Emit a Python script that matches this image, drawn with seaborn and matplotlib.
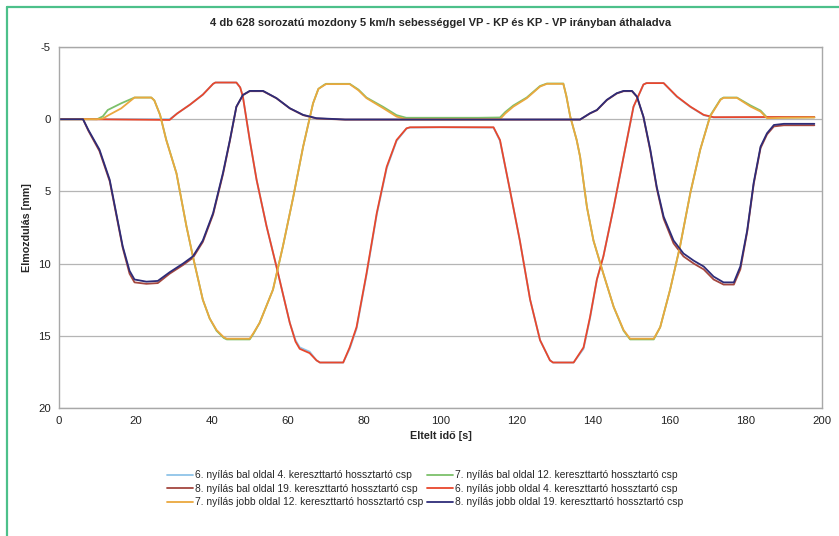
import numpy as np
import pandas as pd
import matplotlib
matplotlib.use("Agg")
import matplotlib.pyplot as plt
from matplotlib.lines import Line2D
from matplotlib import font_manager
import seaborn as sns

TITLE = "4 db 628 sorozatú mozdony 5 km/h sebességgel VP - KP és KP - VP irányban áthaladva"
X_LABEL = "Eltelt idő [s]"
Y_LABEL = "Elmozdulás [mm]"

NAMES = [
    "6. nyílás bal oldal 4. kereszttartó hossztartó csp",
    "7. nyílás bal oldal 12. kereszttartó hossztartó csp",
    "8. nyílás bal oldal 19. kereszttartó hossztartó csp",
    "6. nyílás jobb oldal 4. kereszttartó hossztartó csp",
    "7. nyílás jobb oldal 12. kereszttartó hossztartó csp",
    "8. nyílás jobb oldal 19. kereszttartó hossztartó csp",
]
COLORS = ["#8fc4e8", "#7cc06a", "#a4473f", "#e8472c", "#eaa83e", "#2e2c78"]

# 6. nyílás (light blue / red)
t_6 = [0, 7, 29, 31, 34.3, 37.7, 40.4, 41, 46.5, 47.5, 48.2, 50, 51.8, 54.4, 57, 58.7,
       60.5, 62, 63.1, 65.7, 67.5, 68.4, 74.5, 76.2, 78, 80.6, 83.3, 85.9, 88.5, 91.1,
       92, 100, 113.9, 115.6, 118.2, 120.8, 123.5, 126.1, 128.7, 129.5, 134.9, 137.5,
       139.2, 141, 142.7, 145.4, 148, 150.6, 153.2, 154, 158.5, 162, 165.5, 169, 171.6,
       185, 198]
v_6_bal = [0, 0, 0.0, -0.4, -1.0, -1.7, -2.45, -2.54, -2.54, -2.2, -1.57, 1.44, 4.2, 7.4, 10.2, 12.1,
           14.1, 15.3, 15.8, 16.1, 16.7, 16.85, 16.85, 15.9, 14.5, 10.8, 6.6, 3.4, 1.5, 0.65,
           0.58, 0.56, 0.58, 1.5, 4.9, 8.4, 12.5, 15.3, 16.7, 16.85, 16.85, 15.9,
           13.8, 11.1, 9.5, 6.1, 2.6, -0.85, -2.4, -2.5, -2.5, -1.55, -0.85, -0.28, -0.12,
           -0.13, -0.13]
v_6_jobb = [0, 0, 0.05, -0.4, -1.0, -1.7, -2.45, -2.54, -2.54, -2.2, -1.57, 1.44, 4.2, 7.4, 10.2, 12.1,
            14.1, 15.4, 15.9, 16.2, 16.7, 16.85, 16.85, 15.8, 14.4, 10.7, 6.5, 3.3, 1.44, 0.63,
            0.56, 0.55, 0.56, 1.44, 4.9, 8.4, 12.5, 15.3, 16.7, 16.85, 16.85, 15.8,
            13.7, 11.1, 9.5, 6.1, 2.6, -0.87, -2.4, -2.5, -2.5, -1.57, -0.87, -0.3, -0.14,
            -0.15, -0.15]

# 7. nyílás (green / orange)
t_7 = [0, 7, 10, 11.5, 12.8, 16.3, 19.8, 24.2, 25, 26.5, 28.1, 30.8, 33.4, 35.1, 37.7,
       39.5, 41.3, 43.2, 44, 50, 51, 52.6, 56.1, 58.7, 61.4, 64, 66.6, 68, 69.5, 70,
       76.2, 78.5, 80.6, 85, 88.5, 91, 100, 110, 115.6, 117, 119.1, 122.6, 126.1, 127.9,
       132.2, 133, 134, 135.7, 136.6, 138.4, 140.1, 142.7, 145.4, 148, 149.7, 155.9,
       157.6, 160.2, 162.8, 165.5, 168.1, 170.7, 173.4, 174.2, 177.7, 181.3, 183.9,
       185.6, 190, 198]
v_7_bal = [0, 0, 0, -0.2, -0.64, -1.1, -1.5, -1.5, -1.3, -0.3, 1.4, 3.75, 7.4, 9.5, 12.5,
           13.8, 14.65, 15.15, 15.25, 15.25, 14.85, 14.1, 11.8, 8.8, 5.4, 1.9, -1.1, -2.1, -2.38, -2.45,
           -2.45, -2.05, -1.5, -0.85, -0.28, -0.1, -0.1, -0.1, -0.12, -0.5, -0.95, -1.5, -2.3, -2.47,
           -2.47, -1.6, -0.2, 1.44, 2.6, 6.1, 8.4, 10.7, 13.0, 14.65, 15.25, 15.25,
           14.4, 11.8, 8.8, 5.1, 2.1, -0.25, -1.38, -1.5, -1.5, -0.95, -0.6,
           -0.12, -0.12, -0.14]
v_7_jobb = [0, 0, 0, -0.05, -0.25, -0.75, -1.5, -1.5, -1.3, -0.3, 1.44, 3.75, 7.4, 9.5, 12.5,
            13.8, 14.6, 15.1, 15.2, 15.2, 14.8, 14.1, 11.8, 8.8, 5.4, 1.9, -1.1, -2.1, -2.35, -2.43,
            -2.43, -2.0, -1.46, -0.76, -0.18, 0.0, 0.0, 0.0, 0.0, -0.4, -0.87, -1.45, -2.26, -2.45,
            -2.45, -1.6, -0.2, 1.44, 2.6, 6.1, 8.4, 10.7, 13.0, 14.6, 15.2, 15.2,
            14.4, 11.8, 8.8, 5.1, 2.1, -0.2, -1.34, -1.48, -1.48, -0.87, -0.53,
            -0.07, -0.1, -0.12]

# 8. nyílás (brown / navy)
t_8 = [0, 6.3, 7.7, 10.6, 13.3, 15, 16.7, 18.5, 19.8, 22.9, 25.9, 29, 32.5, 35.1, 37.7,
       40.4, 43, 44.8, 46.5, 48.2, 50, 53.5, 57, 60.5, 64, 67.5, 75, 100, 120, 136.6,
       139.2, 141, 143.6, 146.2, 148, 150.2, 151.5, 153.2, 155, 156.7, 158.5, 161.1,
       163.7, 166.4, 169, 171.6, 174.2, 176.9, 178.6, 180.4, 182.1, 183.9, 185.6,
       187.4, 190, 198]
v_8_bal = [0, 0, 0.8, 2.2, 4.3, 6.6, 8.9, 10.7, 11.3, 11.4, 11.35, 10.7, 10.1, 9.6, 8.5,
           6.6, 3.8, 1.5, -0.85, -1.66, -1.94, -1.94, -1.45, -0.75, -0.28, -0.05, 0.03, 0.03, 0.03, 0.03,
           -0.4, -0.62, -1.32, -1.78, -1.94, -1.94, -1.55, -0.15, 2.2, 4.8, 6.9, 8.6,
           9.5, 10.0, 10.4, 11.1, 11.45, 11.45, 10.4, 7.8, 4.5, 2.0, 1.05,
           0.5, 0.42, 0.42]
v_8_jobb = [0, 0, 0.74, 2.1, 4.2, 6.5, 8.8, 10.5, 11.1, 11.25, 11.2, 10.6, 10.0, 9.5, 8.4,
            6.5, 3.7, 1.44, -0.87, -1.68, -1.96, -1.96, -1.46, -0.76, -0.3, -0.07, 0.02, 0.02, 0.02, 0.02,
            -0.41, -0.64, -1.34, -1.8, -1.96, -1.96, -1.57, -0.18, 2.1, 4.7, 6.75, 8.4,
            9.3, 9.8, 10.2, 10.9, 11.3, 11.3, 10.2, 7.7, 4.4, 1.9, 0.97,
            0.4, 0.32, 0.32]

series = [
    (NAMES[0], t_6, v_6_bal),
    (NAMES[1], t_7, v_7_bal),
    (NAMES[2], t_8, v_8_bal),
    (NAMES[3], t_6, v_6_jobb),
    (NAMES[4], t_7, v_7_jobb),
    (NAMES[5], t_8, v_8_jobb),
]
frames = [pd.DataFrame({"ido": t, "elmozdulas": v, "meres": n}) for n, t, v in series]
df = pd.concat(frames, ignore_index=True)

sns.set_style("white")
available = {f.name for f in font_manager.fontManager.ttflist}
narrow = "Liberation Sans Narrow" in available
base_font = "Liberation Sans Narrow" if narrow else "Liberation Sans"
plt.rcParams["font.family"] = [base_font, "DejaVu Sans"]
plt.rcParams["axes.unicode_minus"] = False
fs = 1.0 if narrow else 0.86

fig = plt.figure(figsize=(8.39, 5.36), dpi=100)
ax = fig.add_axes([0.0703, 0.2388, 0.9094, 0.6735])

sns.lineplot(data=df, x="ido", y="elmozdulas", hue="meres", hue_order=NAMES,
             palette=COLORS, estimator=None, sort=False, linewidth=1.3, ax=ax)

ax.set_xlim(0, 200)
ax.set_ylim(20, -5)
ax.set_xticks(np.arange(0, 201, 20))
ax.set_yticks(np.arange(-5, 21, 5))
ax.yaxis.grid(True, color="#b5b5b5", linewidth=0.9)
ax.set_axisbelow(True)
for sp in ax.spines.values():
    sp.set_color("#a8a8a8")
    sp.set_linewidth(1.0)
ax.tick_params(axis="both", direction="out", length=4, width=0.8, color="#a8a8a8",
               labelsize=9.5 * fs, labelcolor="#222222", pad=2)

ax.set_title(TITLE, fontsize=9.3 * fs, fontweight="bold", pad=15)
ax.set_xlabel(X_LABEL, fontsize=9 * fs, fontweight="bold", labelpad=3)
ax.set_ylabel(Y_LABEL, fontsize=9 * fs, fontweight="bold", labelpad=4)

handles, labels = ax.get_legend_handles_labels()
order = [0, 2, 4, 1, 3, 5]
ax.legend([handles[i] for i in order], [labels[i] for i in order], ncol=2,
          loc="upper center", bbox_to_anchor=(425 / 839, 1 - 466 / 536),
          bbox_transform=fig.transFigure, frameon=False, fontsize=8.55 * fs,
          handlelength=2.5, handletextpad=0.2, columnspacing=0.4,
          labelspacing=0.35, borderaxespad=0)

# green frame of the figure (top and left edge)
fig.add_artist(Line2D([7 / 839, 1], [1 - 7 / 536, 1 - 7 / 536], transform=fig.transFigure,
                      color="#4cc08a", linewidth=1.6))
fig.add_artist(Line2D([7 / 839, 7 / 839], [0, 1 - 7 / 536], transform=fig.transFigure,
                      color="#4cc08a", linewidth=1.6))

fig.savefig("out.png", dpi=100)
